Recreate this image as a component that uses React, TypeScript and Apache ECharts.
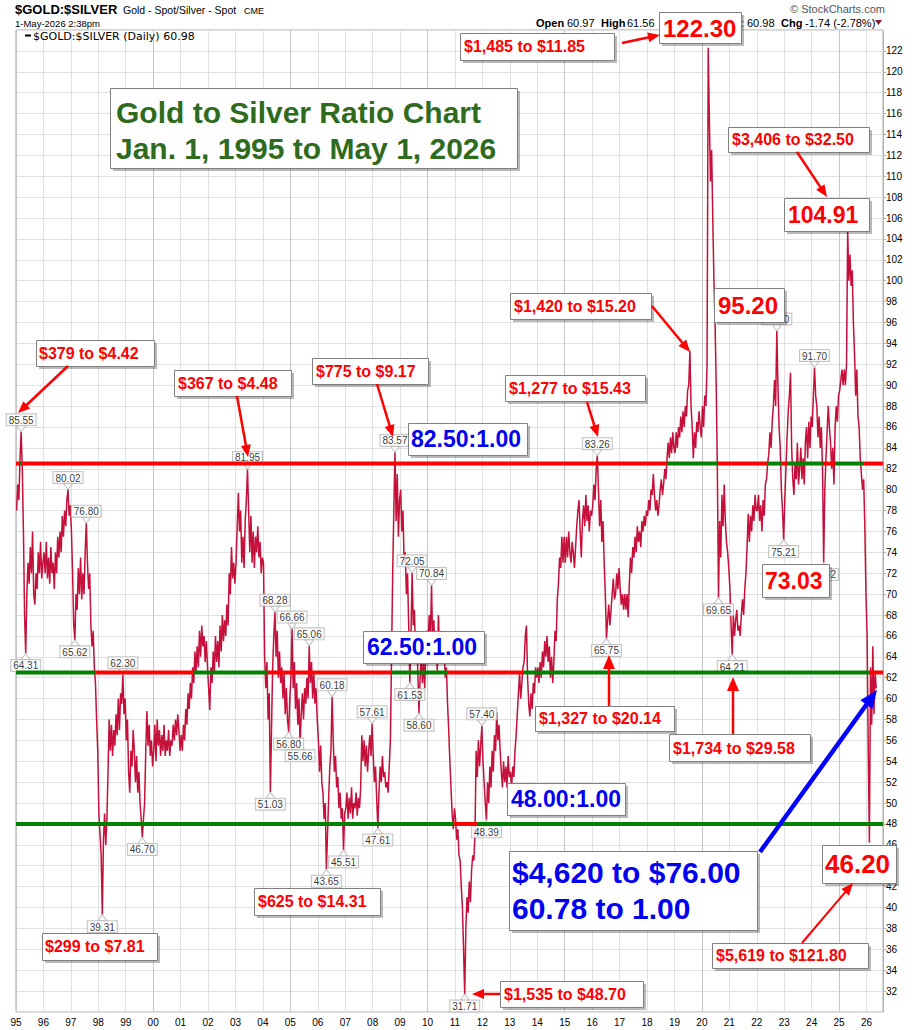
import React, { useEffect, useRef } from "react";
import * as echarts from "echarts";

const FONT = '"Liberation Sans", Arial, Helvetica, sans-serif';

// Gold / silver ratio, two readings per month (1st half, 2nd half of each month)
const v1995 = [78, 80.5, 79, 83, 85.55, 82, 76, 68, 64.31, 70, 73, 71, 74.5, 72, 76, 70, 69, 72, 70.5, 74, 72, 75, 71.5, 73];
const v1996 = [74, 72, 75, 71.5, 73.5, 71, 74.5, 72, 73, 70.5, 74, 72, 75.5, 73.5, 76, 74, 77.5, 75.5, 78, 76.5, 79, 80.02, 77.5, 78.5];
const v1997 = [76, 72, 67, 65.62, 70, 68.5, 72.5, 70, 73.5, 69.5, 72, 70, 74, 76.8, 73, 70.5, 72, 67, 65, 66.5, 63, 61.5, 58, 55];
const v1998 = [49, 47, 45, 39.31, 46.5, 49, 46, 48.5, 53, 58, 55, 57.5, 54.5, 57, 55.5, 58.5, 56.5, 60, 57, 60.5, 59.5, 62.3, 58.5, 60];
const v1999 = [56, 58, 53, 51, 55, 53.5, 57, 55, 52, 54.5, 51, 53, 50, 48.5, 46.7, 48.5, 50, 55, 58.8, 55.5, 57.5, 54.5, 56, 53.5];
const v2000 = [55, 57.5, 54, 58, 55.5, 57, 54.5, 56.5, 55, 57.5, 54.5, 56, 55, 57, 54.5, 56, 55.5, 57.5, 56, 58, 56.5, 58.5, 57, 55];
const v2001 = [56.5, 55, 57.5, 56, 59, 57.5, 60.5, 59, 61.5, 60, 63, 61.5, 64.5, 62.5, 65, 63, 66.5, 64, 67, 65, 66, 63.5, 65.5, 63];
const v2002 = [61, 58.9, 63, 61.5, 64.5, 62.5, 66, 63.5, 65.5, 63, 67, 64.5, 68, 65.5, 67.5, 66, 69, 67, 72, 70, 74.5, 71.5, 73, 71];
const v2003 = [73, 76.5, 79.7, 76, 78, 73, 75.5, 72.5, 77, 79, 81.95, 78, 74, 77.5, 73, 76, 72.5, 75.5, 74, 76.5, 73.5, 75, 72, 73.5];
const v2004 = [73, 64, 61, 63.5, 58, 60.5, 51.03, 57, 63, 66, 68.28, 64, 66.5, 62, 64.5, 61.5, 63, 60, 62.5, 58.5, 61, 58, 56.8, 60];
const v2005 = [62, 66.66, 61, 63.5, 59, 61.5, 57.5, 60, 55.66, 58.5, 60.5, 58, 61, 59.5, 62, 60, 65.06, 61.5, 63.5, 60, 62.5, 59.5, 61, 58];
const v2006 = [56, 53, 55.5, 52, 51, 48.5, 50, 43.65, 47, 50.5, 53.5, 55, 60.18, 56, 53, 54.5, 51.5, 52.5, 49.5, 51, 48.5, 49.5, 45.51, 49];
const v2007 = [49.5, 51, 48.5, 50.5, 49, 51.5, 48.5, 50, 49.5, 51, 48.8, 50.5, 49.5, 51.5, 56.5, 54, 56, 53.5, 55.5, 53, 55, 56.5, 54.5, 57.61];
const v2008 = [54.5, 52, 53.5, 50.5, 47.61, 51, 53.5, 52, 54.5, 52.5, 53, 51.5, 52, 51, 53.5, 56, 64, 72, 78, 83.57, 77, 81.5, 75.5, 79];
const v2009 = [80, 76, 78, 73, 74, 70, 72, 67, 61.53, 66, 72.05, 67, 68.5, 64.5, 66, 62.5, 58.6, 62, 64, 61.5, 63.5, 61, 64.5, 66.5];
const v2010 = [65.5, 68, 66, 70.84, 65, 67.5, 64, 66.5, 62.5, 68, 64.5, 66.5, 63.5, 66, 64.5, 62, 63, 59.5, 57, 54, 51.5, 49, 47.5, 49.5];
const v2011 = [48.5, 46.5, 47.5, 45, 44.5, 42, 40, 36, 31.71, 38, 41, 39.5, 42.5, 40.5, 43.5, 45, 44.5, 47, 55, 52.5, 56, 53.5, 55.5, 57.4];
const v2012 = [54, 52, 50, 48.39, 52, 50, 53.5, 51.5, 55, 53, 56.5, 55, 58.7, 56, 57.5, 55, 53, 51.5, 54, 52, 53.5, 51.5, 54.5, 52.5];
const v2013 = [53, 51.5, 53.5, 52.5, 55, 56.5, 58.5, 60.5, 62.5, 60, 61.5, 63, 63.5, 66, 67, 62, 59.5, 58.3, 60.5, 59, 61.5, 60.5, 63, 62];
const v2014 = [63, 61.5, 63.5, 62, 64.5, 63, 65.5, 64, 66, 63.5, 65, 62, 64, 61.5, 63.5, 66.5, 65.5, 69.5, 71, 73.5, 72.5, 75.5, 73, 75.5];
const v2015 = [73, 75.5, 73.5, 76, 74, 73, 75, 74, 72.5, 74.5, 76.5, 78, 79, 76, 73.5, 77, 78.5, 76.5, 79.5, 77, 78.5, 76, 78, 77.5];
const v2016 = [78.5, 80.5, 79, 82, 83.26, 80, 76.5, 79, 75, 77, 73, 70, 65.75, 67.5, 69, 67, 68.5, 70, 71.5, 69.5, 70, 72, 70.5, 72.5];
const v2017 = [70.5, 69, 70, 68.5, 70, 68.5, 70, 67.8, 71, 73.5, 72, 74.5, 73.5, 75.5, 74, 76.5, 75, 76, 74.5, 77, 76, 77.5, 76.5, 78];
const v2018 = [77.5, 79, 78, 80, 79.5, 81.5, 79.5, 78, 79, 77.5, 78.5, 80, 81, 79.5, 80.5, 82, 81, 83, 84.5, 83, 85, 83.5, 85.5, 84];
const v2019 = [83.5, 85.5, 84, 86, 85, 87, 85.5, 87.5, 86, 88, 87, 89.5, 90, 93.3, 88, 86, 83, 85.5, 84, 86.5, 85.5, 87.5, 86, 85];
const v2020 = [88, 86, 89, 88, 92, 122.3, 115.5, 109.5, 112.5, 106, 100, 96, 90, 82, 69.65, 77, 73.5, 79.5, 76.5, 80.5, 77, 75, 74, 72.5];
const v2021 = [70.5, 67, 64.21, 68, 66, 67.5, 68.5, 66.5, 67, 66, 68, 69.5, 68, 70.5, 72, 74.5, 77.7, 75, 77.5, 76, 78.5, 77, 79.5, 78];
const v2022 = [78, 79.5, 77, 78.5, 76, 79, 77.5, 80.5, 81, 82.5, 83.4, 85.5, 84, 86.5, 88, 90.5, 88, 95.2, 90, 86, 84, 80, 78, 75.21];
const v2023 = [79, 82, 85, 87.5, 89, 91.2, 84, 81, 79.5, 82.5, 81, 84.5, 80.5, 82, 84, 81, 83, 80.5, 84.5, 86, 83, 86.5, 84, 87];
const v2024 = [86, 89, 91.7, 89, 88, 85, 87, 84, 86, 82, 73.02, 80, 83, 85.5, 88, 86, 84.5, 82, 84, 80.5, 86, 88, 86.5, 89];
const v2025 = [89.5, 90.5, 91.5, 90, 91.5, 90, 92, 104.91, 100, 102.5, 99.5, 101, 96, 93, 89, 91.5, 87, 86, 83, 81.5, 80, 81, 76.5, 70];
const v2026 = [66, 55, 46.2, 63, 57.5, 65, 58.5, 62.5, 60.98];

const yearly: [number, number[]][] = [
  [1995, v1995], [1996, v1996], [1997, v1997], [1998, v1998], [1999, v1999], [2000, v2000],
  [2001, v2001], [2002, v2002], [2003, v2003], [2004, v2004], [2005, v2005], [2006, v2006],
  [2007, v2007], [2008, v2008], [2009, v2009], [2010, v2010], [2011, v2011], [2012, v2012],
  [2013, v2013], [2014, v2014], [2015, v2015], [2016, v2016], [2017, v2017], [2018, v2018],
  [2019, v2019], [2020, v2020], [2021, v2021], [2022, v2022], [2023, v2023], [2024, v2024],
  [2025, v2025], [2026, v2026],
];

// Labelled highs and lows
const peakLabels = [85.55, 80.02, 76.8, 62.3, 81.95, 68.28, 66.66, 65.06, 60.18, 57.61, 83.57, 72.05, 70.84, 57.4, 83.26, 95.2, 91.7];
const troughLabels = [64.31, 65.62, 39.31, 46.7, 51.03, 56.8, 55.66, 43.65, 45.51, 47.61, 61.53, 58.6, 31.71, 48.39, 65.75, 69.65, 64.21, 75.21, 73.02];

// Ratio reference lines and stretches where the ratio was above (1) or below (0) them
const level82 = 82.5;
const level62 = 62.5;
const level48 = 48;
const runs82: [number, number, number][] = [
  [1995.0, 1995.15, 0], [1995.15, 1995.22, 1], [1995.22, 2018.72, 0], [2018.72, 2020.58, 1],
  [2020.58, 2022.37, 0], [2022.37, 2022.92, 1], [2022.92, 2023.14, 0], [2023.14, 2024.41, 1],
  [2024.41, 2024.85, 0], [2024.85, 2025.87, 1], [2025.87, 2026.6, 0],
];
const runs62: [number, number, number][] = [
  [1995.0, 1997.88, 1], [1997.88, 2001.45, 0], [2001.45, 2004.15, 1], [2004.15, 2008.7, 0],
  [2008.7, 2010.71, 1], [2010.71, 2013.48, 0], [2013.48, 2026.09, 1], [2026.09, 2026.6, 0],
];
const runs48: [number, number, number][] = [
  [1995.0, 2010.93, 1], [2010.93, 2011.8, 0], [2011.8, 2026.6, 1],
];

function buildOption() {
  const price: [number, number][] = [];
  yearly.forEach(([yr, arr]) => arr.forEach((v, i) => price.push([yr + (i + 0.5) / 24, v])));
  const find = (v: number) => price.find((p) => Math.abs(p[1] - v) < 1e-6);
  const peaks = peakLabels.map(find).filter(Boolean);
  const troughs = troughLabels.map(find).filter(Boolean);

  const series: any[] = [
    {
      type: "line", data: price, showSymbol: false, symbol: "none", silent: true, z: 2,
      lineStyle: { color: "#c4103a", width: 1.5 },
    },
  ];

  const labelStyle = {
    show: true, distance: 0, fontSize: 10, fontFamily: FONT, color: "#000",
    backgroundColor: "#fff", borderColor: "#b5b5b5", borderWidth: 1, padding: [1, 2, 0, 2], lineHeight: 10,
    formatter: (p: any) => Number(p.value[1]).toFixed(2),
  };
  series.push({
    type: "scatter", data: peaks, silent: true, z: 3,
    symbol: "path://M0,0 L10,0 L5,6 Z", symbolSize: [9, 6], symbolOffset: [0, -3],
    itemStyle: { color: "#fff", borderColor: "#b5b5b5", borderWidth: 1 },
    label: { ...labelStyle, position: "top" },
  });
  series.push({
    type: "scatter", data: troughs, silent: true, z: 3,
    symbol: "path://M5,0 L10,6 L0,6 Z", symbolSize: [9, 6], symbolOffset: [0, 3],
    itemStyle: { color: "#fff", borderColor: "#b5b5b5", borderWidth: 1 },
    label: { ...labelStyle, position: "bottom" },
  });

  const levels: [number, [number, number, number][]][] = [[level82, runs82], [level62, runs62], [level48, runs48]];
  levels.forEach(([lvl, runs]) =>
    runs.forEach(([a, b, up]) =>
      series.push({
        type: "line", data: [[a, lvl], [b, lvl]], showSymbol: false, symbol: "none", silent: true, z: 4,
        lineStyle: { color: up ? "#008000" : "#ff0000", width: 4, cap: "butt" },
      })
    )
  );

  const g: any[] = [];
  const txt = (text: string, x: number, y: number, font: string, fill = "#000", align = "left", z = 50) => ({
    type: "text", z, silent: true,
    style: { text, x, y, font, fill, align, textAlign: align, verticalAlign: "middle", textVerticalAlign: "middle" },
  });
  const box = (x: number, y: number, w: number, h: number, lines: [string, number, number][], color: string, size: number) => {
    g.push({ type: "rect", z: 100, silent: true, shape: { x: x + 3, y: y + 3, width: w, height: h }, style: { fill: "rgba(0,0,0,0.27)" } });
    g.push({ type: "rect", z: 101, silent: true, shape: { x: x + 0.5, y: y + 0.5, width: w, height: h }, style: { fill: "#fff", stroke: "#808080", lineWidth: 1 } });
    lines.forEach(([t, tx, cy]) => g.push(txt(t, tx, cy, `bold ${size}px ${FONT}`, color, "left", 102)));
  };
  const arrow = (x1: number, y1: number, x2: number, y2: number, color: string, w: number, hl: number, hw: number) => {
    const dx = x2 - x1, dy = y2 - y1, L = Math.hypot(dx, dy), ux = dx / L, uy = dy / L;
    const bx = x2 - ux * hl, by = y2 - uy * hl, px = -uy, py = ux;
    g.push({ type: "line", z: 103, silent: true, shape: { x1, y1, x2: bx + ux, y2: by + uy }, style: { stroke: color, lineWidth: w } });
    g.push({
      type: "polygon", z: 103, silent: true,
      shape: { points: [[x2, y2], [bx + (px * hw) / 2, by + (py * hw) / 2], [bx - (px * hw) / 2, by - (py * hw) / 2]] },
      style: { fill: color },
    });
  };

  // header
  g.push(txt("$GOLD:$SILVER", 15, 9.5, `bold 13px ${FONT}`));
  g.push(txt("Gold - Spot/Silver - Spot", 123, 10, `10.5px ${FONT}`));
  g.push(txt("CME", 244, 10.5, `9px ${FONT}`));
  g.push(txt("1-May-2026 2:38pm", 15, 23, `9.5px ${FONT}`));
  g.push({ type: "line", z: 50, silent: true, shape: { x1: 25, y1: 35.5, x2: 31, y2: 35.5 }, style: { stroke: "#000", lineWidth: 2 } });
  g.push(txt("$GOLD:$SILVER (Daily) 60.98", 33, 36, '11px "DejaVu Sans", sans-serif'));
  g.push(txt("\u00A9 StockCharts.com", 790, 9, `11px ${FONT}`, "#555"));
  g.push(txt("Open", 536, 22.5, `bold 11px ${FONT}`));
  g.push(txt("60.97", 567, 22.5, `11px ${FONT}`));
  g.push(txt("High", 601, 22.5, `bold 11px ${FONT}`));
  g.push(txt("61.56", 627, 22.5, `11px ${FONT}`));
  g.push(txt("Last", 743, 22.5, `bold 11px ${FONT}`, "#000", "right", 40));
  g.push(txt("60.98", 747, 22.5, `11px ${FONT}`));
  g.push(txt("Chg", 781, 22.5, `bold 11px ${FONT}`));
  g.push(txt("-1.74 (-2.78%)", 805, 22.5, `11px ${FONT}`));
  g.push({ type: "polygon", z: 50, silent: true, shape: { points: [[875, 20], [882, 20], [878.5, 25]] }, style: { fill: "#8b1a3a" } });

  const RED = "#ff0000", BLUE = "#0000ee", GREEN = "#2f6b1f";
  box(110, 88, 407, 80, [["Gold to Silver Ratio Chart", 116, 112], ["Jan. 1, 1995 to May 1, 2026", 116, 148]], GREEN, 30);
  box(36, 340, 118, 26, [["$379 to $4.42", 39, 353]], RED, 16);
  box(174, 370, 117, 26, [["$367 to $4.48", 178, 383]], RED, 16);
  box(312, 358, 116, 26, [["$775 to $9.17", 316, 371]], RED, 16);
  box(408, 423, 119, 32, [["82.50:1.00", 411, 439]], BLUE, 23);
  box(505, 375, 140, 26, [["$1,277 to $15.43", 509, 388]], RED, 16);
  box(460, 33, 154, 27, [["$1,485 to $11.85", 464, 46.5]], RED, 16);
  box(659, 12, 82, 31, [["122.30", 663, 28]], RED, 24);
  box(510, 293, 141, 26, [["$1,420 to $15.20", 514, 306]], RED, 16);
  box(714, 288, 70, 34, [["95.20", 718, 305]], RED, 24);
  box(728, 127, 141, 25, [["$3,406 to $32.50", 732, 139.5]], RED, 16);
  box(784, 198, 85, 33, [["104.91", 788, 215]], RED, 23);
  box(762, 564, 67, 33, [["73.03", 765, 581]], RED, 23);
  box(363, 631, 121, 32, [["62.50:1.00", 367, 647]], BLUE, 23);
  box(535, 706, 139, 25, [["$1,327 to $20.14", 539, 718.5]], RED, 16);
  box(669, 734, 141, 27, [["$1,734 to $29.58", 673, 748]], RED, 16);
  box(507, 783, 118, 32, [["48.00:1.00", 511, 799]], BLUE, 23);
  box(509, 851, 248, 79, [["$4,620 to $76.00", 512, 872], ["60.78 to 1.00", 512, 908]], BLUE, 30);
  box(822, 845, 74, 38, [["46.20", 825, 864]], RED, 26);
  box(712, 943, 156, 25, [["$5,619 to $121.80", 716, 955.5]], RED, 16);
  box(254, 888, 126, 27, [["$625 to $14.31", 258, 901.5]], RED, 16);
  box(42, 933, 115, 27, [["$299 to $7.81", 45, 946.5]], RED, 16);
  box(500, 981, 143, 26, [["$1,535 to $48.70", 504, 994]], RED, 16);

  arrow(68, 366, 18, 413, RED, 2.5, 12, 10);
  arrow(237, 396, 248, 457, RED, 2.5, 12, 10);
  arrow(377, 384, 393, 437, RED, 2.5, 12, 10);
  arrow(587, 402, 598, 437, RED, 2.5, 12, 10);
  arrow(622, 43, 660, 35, RED, 2.5, 12, 10);
  arrow(652, 306, 690, 352, RED, 2.5, 12, 10);
  arrow(797, 152, 827, 197, RED, 2.5, 12, 10);
  arrow(609, 706, 609, 655, RED, 2.5, 14, 12);
  arrow(733, 734, 733, 677, RED, 2.5, 14, 12);
  arrow(802, 943, 853, 883, RED, 2, 12, 10);
  arrow(500, 994, 472, 994, RED, 2.5, 12, 10);
  arrow(760, 852, 877, 690, "#0000ff", 4.5, 18, 15);

  return {
    animation: false,
    backgroundColor: "#fff",
    grid: {
      left: 16, right: 37, top: 30, bottom: 18, show: true, borderColor: "#a8a8a8", borderWidth: 1,
      containLabel: false, outerBoundsMode: "none",
    },
    xAxis: {
      type: "value", min: 1995, max: 2026.6, interval: 1,
      axisLine: { show: false }, axisTick: { show: false },
      axisLabel: {
        fontSize: 10, fontFamily: FONT, color: "#000", margin: 5, showMaxLabel: false,
        formatter: (v: number) => { const y = Math.round(v) % 100; return y < 10 ? "0" + y : String(y); },
      },
      splitLine: { show: true, lineStyle: { color: ["#c6c6c6", "#e1e1e1", "#e1e1e1", "#e1e1e1", "#e1e1e1"], width: 1 } },
    },
    yAxis: {
      type: "value", position: "right", min: 30, max: 124, interval: 2,
      axisLine: { show: true, lineStyle: { color: "#a8a8a8", type: "dotted" } },
      axisTick: { show: true, length: 3, lineStyle: { color: "#b0b0b0" } },
      axisLabel: { fontSize: 10, fontFamily: FONT, color: "#000", margin: 3, showMaxLabel: false, showMinLabel: false },
      splitLine: { show: true, lineStyle: { color: "#e1e1e1", width: 1 } },
    },
    series,
    graphic: g,
  };
}

export default function App() {
  const ref = useRef<HTMLDivElement>(null);
  useEffect(() => {
    const chart = echarts.init(ref.current as HTMLDivElement, null, { renderer: "svg" });
    chart.setOption(buildOption() as any);
    return () => chart.dispose();
  }, []);
  return <div ref={ref} style={{ position: "absolute", left: 0, top: 0, width: 920, height: 1030, background: "#fff" }} />;
}
